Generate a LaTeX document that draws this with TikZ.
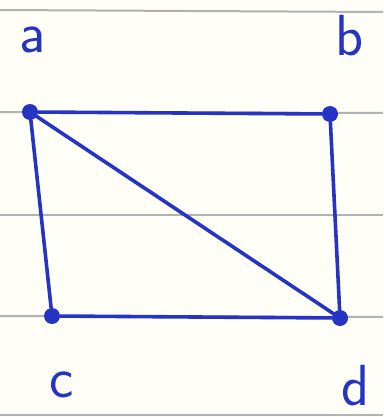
\documentclass[tikz,border=0pt]{standalone}
\begin{document}
\begin{tikzpicture}[x=1pt,y=-1pt,
  paper/.style={draw=gray!60,line width=2pt},
  ink/.style={draw=inkblue,line width=3.6pt,line cap=round},
  vertex/.style={circle,fill=inkblue,inner sep=0pt,minimum size=16pt},
  lbl/.style={text=inkblue,font=\sffamily\fontsize{58}{58}\selectfont,inner sep=0pt}]
\definecolor{inkblue}{RGB}{38,52,196}
\useasboundingbox (0,0) rectangle (383,417);
\fill[white!97!yellow] (0,0) rectangle (383,417);
\draw[paper] (0,10) -- (383,12);
\draw[paper] (0,112) -- (383,113);
\draw[paper] (0,215) -- (383,215);
\draw[paper] (0,316) -- (383,317);
\draw[paper] (0,415) -- (383,415);
\node[vertex] (a) at (30,112) {};
\node[vertex] (b) at (330,114) {};
\node[vertex] (c) at (52,316) {};
\node[vertex] (d) at (340,318) {};
\node[lbl] (la) at (33,40) {a};
\node[lbl] (lb) at (350,36) {b};
\node[lbl] (lc) at (62,385) {c};
\node[lbl] (ld) at (356,386) {d};
\draw[ink] (a) -- (b);
\draw[ink] (a) -- (c);
\draw[ink] (a) -- (d);
\draw[ink] (b) -- (d);
\draw[ink] (c) -- (d);
\end{tikzpicture}
\end{document}
